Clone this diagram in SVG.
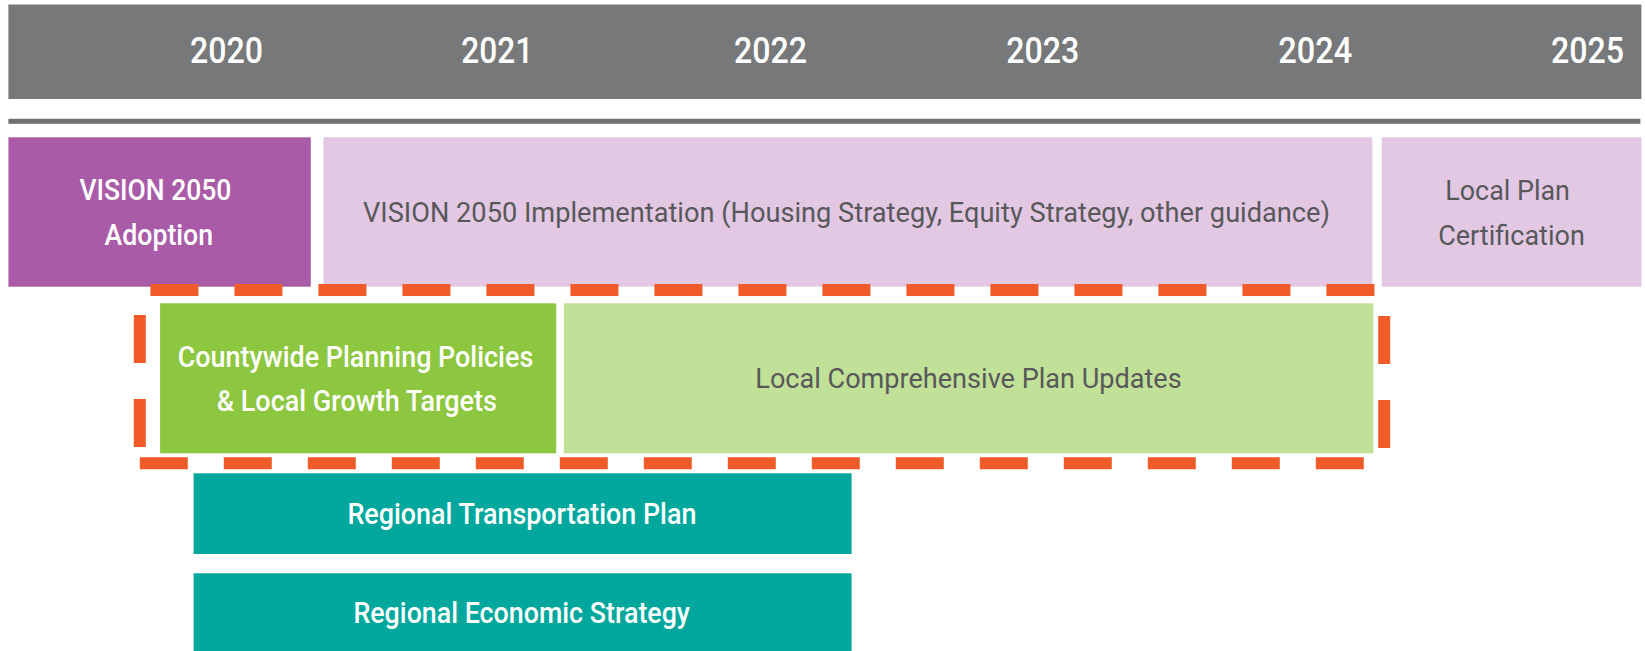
<svg xmlns="http://www.w3.org/2000/svg" width="1645" height="651" viewBox="0 0 1645 651">
<style>
text{font-family:Roboto,"Liberation Sans",sans-serif;text-anchor:middle}
.yr{font-size:37px;font-weight:500;fill:#ffffff}
.wt{font-size:29px;font-weight:500;fill:#ffffff}
.gt{font-size:27.5px;font-weight:400;fill:#58585a}
.dash{stroke:#f15a29;stroke-width:12;stroke-dasharray:48 36;fill:none}
</style>
<rect width="1645" height="651" fill="#ffffff"/>
<g id="header">
<rect x="8.4" y="4.5" width="1633" height="94.5" fill="#77787a"/>
<text class="yr" x="226.6" y="63" textLength="73" lengthAdjust="spacingAndGlyphs">2020</text>
<text class="yr" x="497.3" y="63" textLength="72" lengthAdjust="spacingAndGlyphs">2021</text>
<text class="yr" x="770.4" y="63" textLength="73" lengthAdjust="spacingAndGlyphs">2022</text>
<text class="yr" x="1042.7" y="63" textLength="73" lengthAdjust="spacingAndGlyphs">2023</text>
<text class="yr" x="1315.2" y="63" textLength="74" lengthAdjust="spacingAndGlyphs">2024</text>
<text class="yr" x="1587.5" y="63" textLength="73" lengthAdjust="spacingAndGlyphs">2025</text>
</g>
<rect id="rule" x="8.4" y="118.8" width="1632" height="5" fill="#6f7072"/>
<g id="vision-adoption">
<rect x="8.4" y="137.3" width="302.4" height="149.4" fill="#a95ba8"/>
<text class="wt" x="155.4" y="200" textLength="152" lengthAdjust="spacingAndGlyphs">VISION 2050</text>
<text class="wt" x="158.8" y="245" textLength="108.7" lengthAdjust="spacingAndGlyphs">Adoption</text>
</g>
<g id="vision-implementation">
<rect x="323.4" y="137.3" width="1048.9" height="149.4" fill="#e2c8e3"/>
<text class="gt" x="846.5" y="221.7" textLength="967" lengthAdjust="spacingAndGlyphs">VISION 2050 Implementation (Housing Strategy, Equity Strategy, other guidance)</text>
</g>
<g id="local-plan-certification">
<rect x="1381.7" y="137.3" width="259.8" height="149.4" fill="#e2c8e3"/>
<text class="gt" x="1507.6" y="200" textLength="124.7" lengthAdjust="spacingAndGlyphs">Local Plan</text>
<text class="gt" x="1511.5" y="245" textLength="146.7" lengthAdjust="spacingAndGlyphs">Certification</text>
</g>
<g id="countywide-policies">
<rect x="160.1" y="303.3" width="396.1" height="150" fill="#8dc63f"/>
<text class="wt" x="355.5" y="366.7" textLength="355.5" lengthAdjust="spacingAndGlyphs">Countywide Planning Policies</text>
<text class="wt" x="356.8" y="411" textLength="280" lengthAdjust="spacingAndGlyphs">&amp; Local Growth Targets</text>
</g>
<g id="local-comp-plan">
<rect x="563.8" y="303.3" width="809.5" height="150" fill="#c1e098"/>
<text class="gt" x="968.5" y="388.3" textLength="426.4" lengthAdjust="spacingAndGlyphs">Local Comprehensive Plan Updates</text>
</g>
<g id="highlight-frame">
<line class="dash" x1="150.4" y1="289.9" x2="1374.4" y2="289.9"/>
<line class="dash" x1="139.8" y1="463.2" x2="1363.8" y2="463.2"/>
<line class="dash" x1="139.8" y1="315" x2="139.8" y2="447"/>
<line class="dash" x1="1384.2" y1="316" x2="1384.2" y2="448"/>
</g>
<g id="regional-transportation-plan">
<rect x="193.6" y="473.3" width="658" height="80.7" fill="#00a79d"/>
<text class="wt" x="521.9" y="524" textLength="349" lengthAdjust="spacingAndGlyphs">Regional Transportation Plan</text>
</g>
<g id="regional-economic-strategy">
<rect x="193.6" y="573.3" width="658" height="78" fill="#00a79d"/>
<text class="wt" x="521.7" y="623.3" textLength="336.6" lengthAdjust="spacingAndGlyphs">Regional Economic Strategy</text>
</g>
</svg>
